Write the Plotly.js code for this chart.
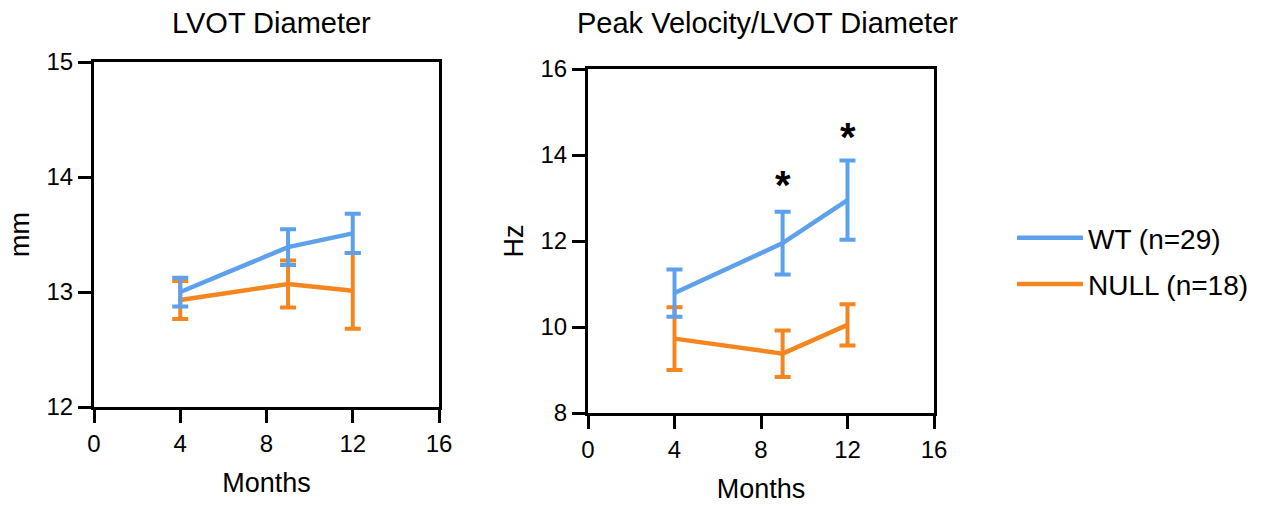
<!DOCTYPE html>
<html>
<head>
<meta charset="utf-8">
<script src="https://cdn.plot.ly/plotly-3.0.1.min.js"></script>
<style>html,body{margin:0;padding:0;background:#fff;}#chart{width:1268px;height:507px;}</style>
</head>
<body>
<div id="chart"></div>
<script>
// Data
const months = [4, 9, 12];
const lvotWT = [13.00, 13.39, 13.51];
const lvotWTErr = [0.125, 0.155, 0.17];
const lvotNULL = [12.93, 13.07, 13.01];
const lvotNULLErr = [0.165, 0.205, 0.33];
const pvWT = [10.79, 11.95, 12.95];
const pvWTErr = [0.55, 0.73, 0.92];
const pvNULL = [9.73, 9.38, 10.05];
const pvNULLErr = [0.73, 0.54, 0.48];
const sigMonths = [9, 12];
const sigY = [13.3, 14.43];
const seriesNames = ['WT (n=29)', 'NULL (n=18)'];
const panelTitles = ['LVOT Diameter', 'Peak Velocity/LVOT Diameter'];
const yTitles = ['mm', 'Hz'];
const xTicks = [0, 4, 8, 12, 16];
const yTicksLeft = [12, 13, 14, 15];
const yTicksRight = [8, 10, 12, 14, 16];

const BLUE = '#5DA1EC';
const ORANGE = '#F5851F';
const FONT = 'Arial, "Liberation Sans", sans-serif';

function tr(x, y, err, name, color, xa, ya, show, rank, group) {
  return {
    type: 'scatter', mode: 'lines', x: x, y: y, name: name,
    xaxis: xa, yaxis: ya, showlegend: show, legendrank: rank, legendgroup: group,
    line: {color: color, width: 4.5},
    error_y: {type: 'data', array: err, visible: true, color: color, thickness: 4, width: 8},
    hoverinfo: 'skip'
  };
}

const data = [
  tr(months, lvotNULL, lvotNULLErr, seriesNames[1], ORANGE, 'x', 'y', true, 2, 'null'),
  tr(months, lvotWT, lvotWTErr, seriesNames[0], BLUE, 'x', 'y', true, 1, 'wt'),
  tr(months, pvNULL, pvNULLErr, seriesNames[1], ORANGE, 'x2', 'y2', false, 2, 'null'),
  tr(months, pvWT, pvWTErr, seriesNames[0], BLUE, 'x2', 'y2', false, 1, 'wt')
];

function xax(domain, anchor) {
  return {
    domain: domain, anchor: anchor, range: [0, 16], tickvals: xTicks, ticktext: xTicks.map(String),
    showline: true, linewidth: 3, linecolor: '#000', mirror: true, ticks: 'outside',
    ticklen: 13, tickwidth: 3, tickcolor: '#000', showgrid: false, zeroline: false,
    tickfont: {family: FONT, size: 24, color: '#000'},
    title: {text: 'Months', font: {family: FONT, size: 27, color: '#000'}, standoff: 18}
  };
}
function yax(domain, anchor, range, ticks, title) {
  return {
    domain: domain, anchor: anchor, range: range, tickvals: ticks, ticktext: ticks.map(String),
    showline: true, linewidth: 3, linecolor: '#000', mirror: true, ticks: 'outside',
    ticklen: 13, tickwidth: 3, tickcolor: '#000', showgrid: false, zeroline: false,
    tickfont: {family: FONT, size: 24, color: '#000'},
    title: {text: title, font: {family: FONT, size: 27, color: '#000'}, standoff: 10}
  };
}

const annotations = [
  {xref: 'paper', yref: 'paper', x: 271/1268, y: 1 - 23/507, text: panelTitles[0], showarrow: false,
   xanchor: 'center', yanchor: 'middle', font: {family: FONT, size: 29, color: '#000'}},
  {xref: 'paper', yref: 'paper', x: 767/1268, y: 1 - 23/507, text: panelTitles[1], showarrow: false,
   xanchor: 'center', yanchor: 'middle', font: {family: FONT, size: 29, color: '#000'}}
];
sigMonths.forEach((m, i) => {
  annotations.push({xref: 'x2', yref: 'y2', x: m, y: sigY[i], text: '<b>*</b>', showarrow: false,
    xanchor: 'center', yanchor: 'middle', font: {family: FONT, size: 40, color: '#000'}});
});

const layout = {
  width: 1268, height: 507, margin: {l: 0, r: 0, t: 0, b: 0},
  paper_bgcolor: '#fff', plot_bgcolor: '#fff',
  xaxis: xax([94/1268, 439/1268], 'y'),
  yaxis: yax([1 - 407/507, 1 - 62/507], 'x', [12, 15], yTicksLeft, yTitles[0]),
  xaxis2: xax([588/1268, 934/1268], 'y2'),
  yaxis2: yax([1 - 413/507, 1 - 69/507], 'x2', [8, 16], yTicksRight, yTitles[1]),
  showlegend: true,
  legend: {x: 1012/1268, y: 1 - 213/507, xanchor: 'left', yanchor: 'top',
    font: {family: FONT, size: 28, color: '#000'}, tracegroupgap: 7, traceorder: 'grouped',
    bgcolor: 'rgba(0,0,0,0)', itemwidth: 66},
  annotations: annotations
};

Plotly.newPlot('chart', data, layout, {staticPlot: true, displayModeBar: false});
</script>
</body>
</html>
